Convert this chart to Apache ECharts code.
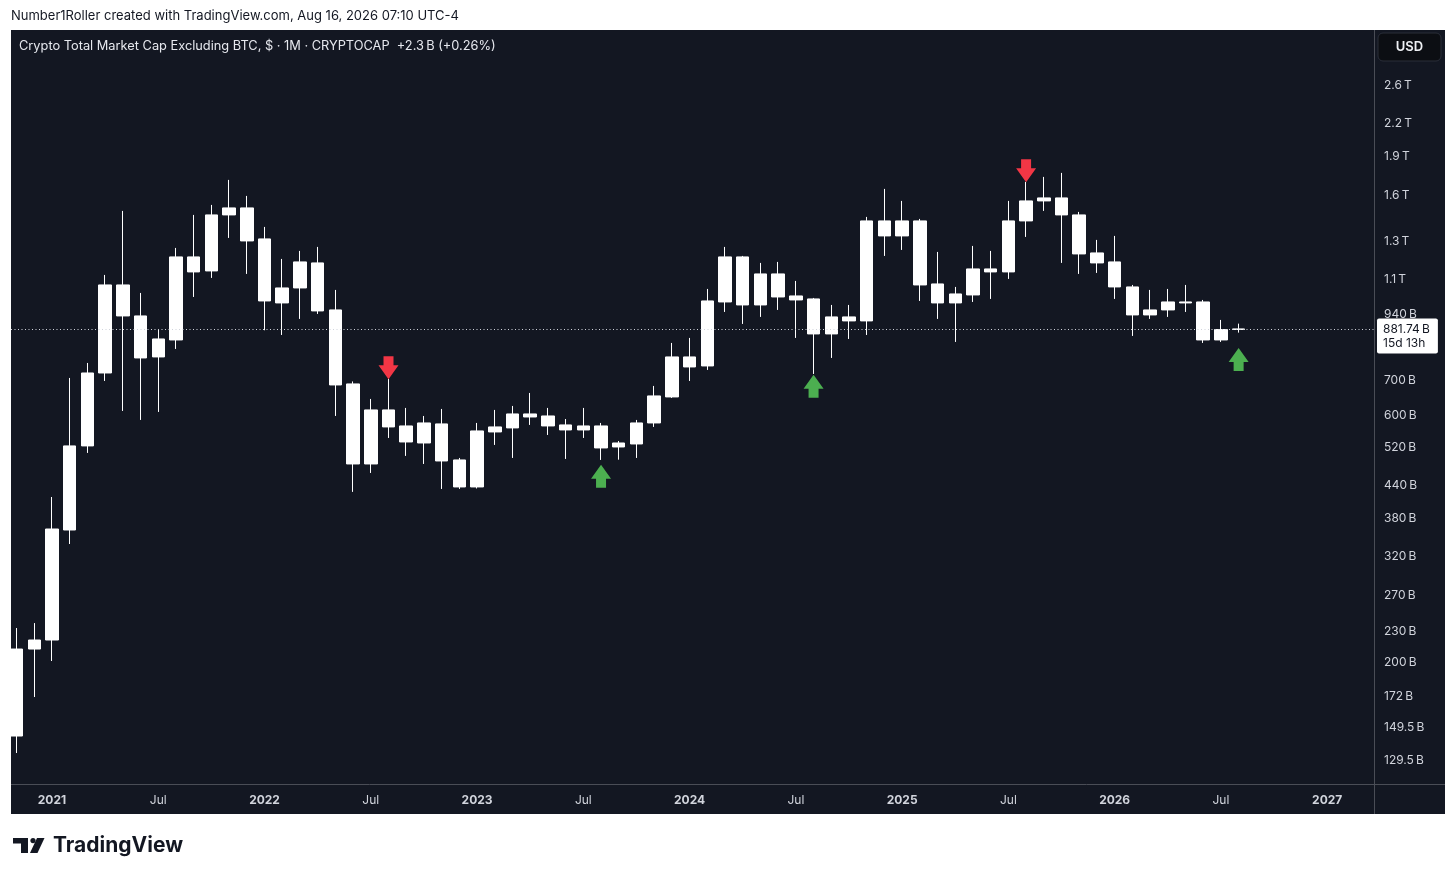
<!DOCTYPE html>
<html><head><meta charset="utf-8">
<script src="https://cdn.jsdelivr.net/npm/echarts@6/dist/echarts.min.js"></script>
<style>html,body{margin:0;padding:0;background:#fff}#c{width:1456px;height:879px}</style>
</head><body><div id="c"></div>
<script>
// ---- data (values in billions USD) ----
const months = [
 '2020-11','2020-12',
 '2021-01','2021-02','2021-03','2021-04','2021-05','2021-06','2021-07','2021-08','2021-09','2021-10','2021-11','2021-12',
 '2022-01','2022-02','2022-03','2022-04','2022-05','2022-06','2022-07','2022-08','2022-09','2022-10','2022-11','2022-12',
 '2023-01','2023-02','2023-03','2023-04','2023-05','2023-06','2023-07','2023-08','2023-09','2023-10','2023-11','2023-12',
 '2024-01','2024-02','2024-03','2024-04','2024-05','2024-06','2024-07','2024-08','2024-09','2024-10','2024-11','2024-12',
 '2025-01','2025-02','2025-03','2025-04','2025-05','2025-06','2025-07','2025-08','2025-09','2025-10','2025-11','2025-12',
 '2026-01','2026-02','2026-03','2026-04','2026-05','2026-06','2026-07','2026-08'
];
const open = [
 144.1,212.2,
 220.9,360.4,523.9,724.8,1072.3,934.2,778.4,839.5,1214.7,1141.3,1464.3,1510.7,
 1316.0,989.8,1058.1,1182.7,959.5,690.3,483.5,614.9,572.6,530.8,577.8,492.2,
 436.5,557.5,567.6,604.0,598.6,575.2,562.5,572.6,521.5,528.5,580.3,651.5,
 778.4,747.8,994.2,1214.7,981.0,1126.2,1021.1,1007.6,862.3,930.1,913.7,1425.8,
 1333.7,1425.8,1077.1,989.8,1025.6,1151.5,1136.3,1425.8,1558.5,1579.4,1464.3,1236.5,
 1188.0,1062.9,938.4,959.5,994.2,994.2,839.5,879.44
];
const close = [
 212.2,220.9,
 362.0,523.9,724.8,1072.3,934.2,774.9,843.2,1214.7,1136.3,1464.3,1510.7,1304.3,
 998.6,1058.1,1188.0,955.2,687.2,483.5,614.9,570.1,533.2,580.3,490.0,436.5,
 560.0,570.1,604.0,595.9,572.6,562.5,572.6,519.2,530.8,580.3,654.4,778.4,
 744.5,998.6,1214.7,981.0,1126.2,1016.5,1003.1,862.3,930.1,913.7,1425.8,1333.7,
 1425.8,1072.3,989.8,1030.2,1151.5,1136.3,1425.8,1558.5,1579.4,1464.3,1231.0,1182.7,
 1062.9,938.4,959.5,994.2,989.8,839.5,879.4,881.74
];
const low = [
 133.6,171.4,
 201.2,338.6,507.8,699.5,612.1,588.1,609.4,806.5,1016.5,1106.3,1321.8,1126.2,
 876.5,858.3,921.9,942.5,598.6,427.0,464.5,542.8,501.1,483.5,432.6,432.6,
 433.5,526.2,496.6,575.2,550.1,494.4,542.8,492.2,492.8,496.6,570.1,648.6,
 699.5,734.6,950.9,901.5,930.1,959.5,847.1,721.6,774.9,843.2,858.3,1220.1,
 1253.1,998.6,921.9,832.1,994.2,1007.6,1101.4,1327.7,1490.6,1182.7,1126.2,1131.2,
 1007.6,854.6,921.9,930.1,950.9,828.4,832.1,867.3
];
const high = [
 233.0,238.2,
 417.4,708.9,757.8,1121.2,1490.6,1034.8,880.4,1264.3,1464.3,1531.0,1711.2,1593.5,
 1388.2,1203.9,1247.6,1270.0,1048.8,698.0,645.7,705.7,620.4,598.6,617.6,496.6,
 580.3,614.9,625.9,663.1,620.4,590.6,620.4,580.3,535.5,588.1,684.2,828.4,
 847.1,1053.4,1270.0,1220.1,1182.7,1188.0,1091.6,1012.0,981.0,981.0,1451.4,1644.0,
 1558.5,1438.5,1242.0,1062.9,1275.6,1247.6,1558.5,1696.0,1734.2,1765.3,1484.0,1310.2,
 1333.7,1072.3,1048.8,1053.4,1072.3,1003.1,917.7,902.7
];
const xTickMonths = ['2021-01','2021-07','2022-01','2022-07','2023-01','2023-07','2024-01','2024-07','2025-01','2025-07','2026-01','2026-07','2027-01'];
const xTickLabels = ['2021','Jul','2022','Jul','2023','Jul','2024','Jul','2025','Jul','2026','Jul','2027'];
const yTickValues = [129.5,149.5,172,200,230,270,320,380,440,520,600,700,940,1100,1300,1600,1900,2200,2600];
const yTickLabels = ['129.5\u2009B','149.5\u2009B','172\u2009B','200\u2009B','230\u2009B','270\u2009B','320\u2009B','380\u2009B','440\u2009B','520\u2009B','600\u2009B','700\u2009B','940\u2009B','1.1\u2009T','1.3\u2009T','1.6\u2009T','1.9\u2009T','2.2\u2009T','2.6\u2009T'];
const lastPrice = 881.74;
const lastPriceLabel = '881.74\u2009B';
const countdownLabel = '15d 13h';
const sellSignals = [['2022-08', 704.8], ['2025-08', 1693.7]];
const buySignals  = [['2023-08', 482.0], ['2024-08', 719.4], ['2026-08', 810.2]];
const viewMin = -0.315, viewMax = 76.7;   // month-index window
const priceMin = 116.4, priceMax = 3334;  // price window

// ---- helpers ----
function monthIndex(m){ const p = m.split('-').map(Number); return (p[0]-2020)*12 + (p[1]-1) - 10; }
const FONT = 'Inter, Roboto, "DejaVu Sans", sans-serif';
const TXT = '#d1d4dc';
const BG = '#131722';
const SEP = '#4a4d56';

const candleData = months.map((m,i)=>[monthIndex(m), open[i], close[i], low[i], high[i]]);
const xTickIdx = xTickMonths.map(monthIndex);
const yTickLn = yTickValues.map(v=>Math.log(v));

const chart = echarts.init(document.getElementById('c'), null, {renderer:'canvas', width:1456, height:879});
chart.setOption({
  animation:false,
  backgroundColor:'#ffffff',
  textStyle:{fontFamily:FONT},
  grid:{left:11, top:30, width:1364, height:754, containLabel:false, outerBoundsMode:'none'},
  xAxis:{
    type:'value', min:viewMin, max:viewMax,
    axisLine:{show:false}, axisTick:{show:false}, splitLine:{show:false},
    axisLabel:{
      customValues:xTickIdx, margin:10, color:TXT, fontSize:12, fontFamily:FONT,
      formatter:function(v){
        const k = xTickIdx.indexOf(Math.round(v));
        const s = k>=0 ? xTickLabels[k] : '';
        return /^\d{4}$/.test(s) ? '{y|'+s+'}' : '{m|'+s+'}';
      },
      rich:{y:{fontWeight:'bold',color:TXT,fontSize:12,fontFamily:FONT}, m:{color:TXT,fontSize:12,fontFamily:FONT}}
    }
  },
  yAxis:[
    {type:'log', logBase:10, position:'right', min:priceMin, max:priceMax,
     axisLine:{show:false}, axisTick:{show:false}, splitLine:{show:false}, axisLabel:{show:false}},
    {type:'value', position:'right', min:Math.log(priceMin), max:Math.log(priceMax),
     axisLine:{show:false}, axisTick:{show:false}, splitLine:{show:false},
     axisLabel:{
       customValues:yTickLn, margin:9, color:TXT, fontSize:12, fontFamily:FONT, padding:[3,0,0,0],
       formatter:function(v){
         let best=0, d=1e9;
         yTickLn.forEach((t,i)=>{ if(Math.abs(t-v)<d){d=Math.abs(t-v); best=i;} });
         return yTickLabels[best];
       }
     }}
  ],
  series:[
    {
      type:'candlestick', xAxisIndex:0, yAxisIndex:0, clip:true,
      encode:{x:0, y:[1,2,3,4]},
      data:candleData, barWidth:13,
      itemStyle:{color:'#ffffff', color0:'#ffffff', borderColor:'#ffffff', borderColor0:'#ffffff', borderWidth:1},
      markLine:{
        silent:true, symbol:['none','none'], animation:false,
        lineStyle:{color:'#d1d4dc', width:1, type:[1,2.5]},
        label:{
          show:true, position:'end', distance:2, offset:[0,7],
          formatter: lastPriceLabel+'\n'+countdownLabel,
          backgroundColor:'#ffffff', color:'#131722', fontSize:12, lineHeight:14,
          padding:[4,8,3,6], borderRadius:2, fontFamily:FONT, align:'left'
        },
        data:[{yAxis:lastPrice}]
      }
    },
    {
      type:'scatter', xAxisIndex:0, yAxisIndex:0, clip:false, silent:true,
      symbol:'path://M5,0 L15,0 L15,9 L20,9 L10,23 L0,9 L5,9 Z',
      symbolSize:[20,23], symbolOffset:[0,-11.5], symbolKeepAspect:false,
      itemStyle:{color:'#f23645', opacity:1},
      data:sellSignals.map(s=>[monthIndex(s[0]), s[1]])
    },
    {
      type:'scatter', xAxisIndex:0, yAxisIndex:0, clip:false, silent:true,
      symbol:'path://M10,0 L20,14 L15,14 L15,23 L5,23 L5,14 L0,14 Z',
      symbolSize:[20,23], symbolOffset:[0,11.5], symbolKeepAspect:false,
      itemStyle:{color:'#4caf50', opacity:1},
      data:buySignals.map(s=>[monthIndex(s[0]), s[1]])
    }
  ],
  graphic:[
    {type:'rect', z:-10, silent:true, shape:{x:11, y:30, width:1434, height:784}, style:{fill:BG}},
    {type:'line', z:50, silent:true, shape:{x1:11, y1:784.5, x2:1445, y2:784.5}, style:{stroke:SEP, lineWidth:1}},
    {type:'line', z:50, silent:true, shape:{x1:1374.5, y1:30, x2:1374.5, y2:814}, style:{stroke:SEP, lineWidth:1}},
    {type:'text', z:60, silent:true, x:11, y:16, style:{text:'Number1Roller created with TradingView.com, Aug 16, 2026 07:10 UTC-4', fill:'#131722', font:'13px '+FONT, textVerticalAlign:'middle', verticalAlign:'middle'}},
    {type:'text', z:60, silent:true, x:19, y:46, style:{text:'Crypto Total Market Cap Excluding BTC, $ \u00b7 1M \u00b7 CRYPTOCAP  +2.3\u2009B (+0.26%)', fill:'#e6e8ee', font:'12.8px '+FONT, verticalAlign:'middle', textVerticalAlign:'middle'}},
    {type:'rect', z:60, silent:true, shape:{x:1378, y:33, width:63, height:28, r:5}, style:{fill:'#0c0e13', stroke:'#2a2e39', lineWidth:1}},
    {type:'text', z:61, silent:true, x:1409.5, y:47, style:{text:'USD', fill:'#eef0f4', font:'600 13px '+FONT, align:'center', verticalAlign:'middle', textAlign:'center', textVerticalAlign:'middle'}},
    {type:'polygon', z:60, silent:true, shape:{points:[[13,838],[28,838],[28,853],[21,853],[21,843.5],[13,843.5]]}, style:{fill:'#131722'}},
    {type:'circle', z:60, silent:true, shape:{cx:33, cy:840.6, r:2.6}, style:{fill:'#131722'}},
    {type:'polygon', z:60, silent:true, shape:{points:[[37,838],[44.5,838],[37.5,853],[30,853]]}, style:{fill:'#131722'}},
    {type:'text', z:60, silent:true, x:53, y:846, style:{text:'TradingView', fill:'#131722', font:'bold 21px '+FONT, verticalAlign:'middle', textVerticalAlign:'middle'}}
  ]
});
</script>
</body></html>
